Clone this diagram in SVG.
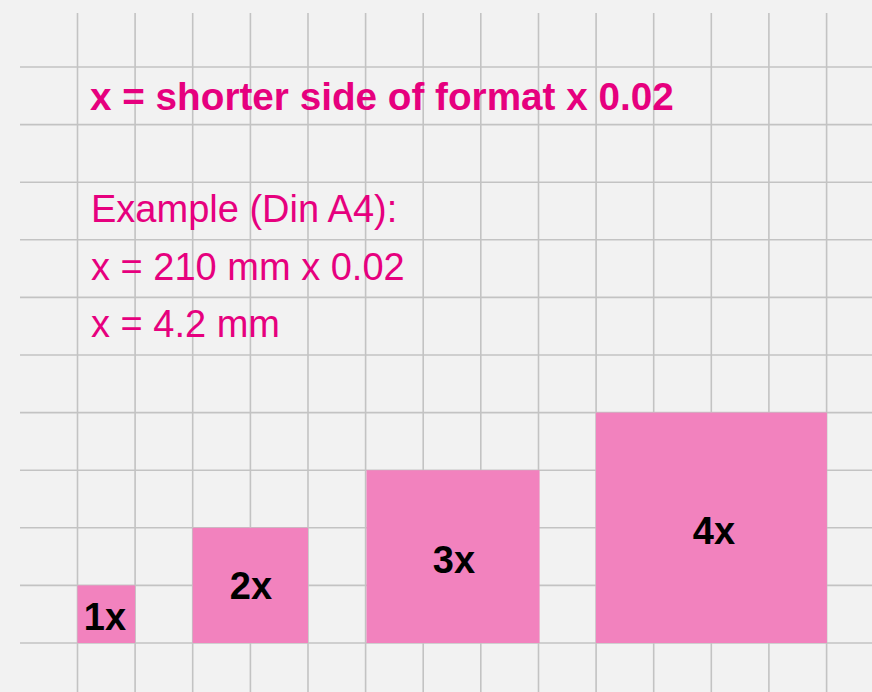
<svg xmlns="http://www.w3.org/2000/svg" width="872" height="692" viewBox="0 0 872 692">
<style>
.g{stroke:#c3c3c3;stroke-width:1.6;fill:none}
.sq{fill:#f282be}
.t{font-family:"Liberation Sans",Arial,sans-serif;fill:#e6007e;font-size:38px}
.b{font-weight:bold;font-size:38.7px}
.lbl{font-family:"Liberation Sans",Arial,sans-serif;font-weight:bold;font-size:38px;fill:#000;text-anchor:middle}
</style>
<rect width="872" height="692" fill="#f2f2f2"/>
<g id="grid" class="g">
<path d="M77.5 13V692M135.1 13V692M192.7 13V692M250.4 13V692M308 13V692M365.6 13V692M423.2 13V692M480.8 13V692M538.5 13V692M596.1 13V692M653.7 13V692M711.3 13V692M768.9 13V692M826.6 13V692"/>
<path d="M20 67H872M20 124.6H872M20 182.2H872M20 239.8H872M20 297.4H872M20 355H872M20 412.6H872M20 470.2H872M20 527.8H872M20 585.4H872M20 643H872"/>
</g>
<g id="texts">
<text class="t b" x="90" y="110">x = shorter side of format x 0.02</text>
<text class="t" x="91" y="222">Example (Din A4):</text>
<text class="t" x="91" y="280">x = 210 mm x 0.02</text>
<text class="t" x="91" y="337">x = 4.2 mm</text>
</g>
<g id="box1x"><rect class="sq" x="77.5" y="585.4" width="57.6" height="57.6"/><text class="lbl" x="105" y="630">1x</text></g>
<g id="box2x"><rect class="sq" x="192.7" y="527.8" width="115.3" height="115.2"/><text class="lbl" x="251" y="599">2x</text></g>
<g id="box3x"><rect class="sq" x="366.5" y="470.2" width="173" height="172.8"/><text class="lbl" x="454" y="573">3x</text></g>
<g id="box4x"><rect class="sq" x="595.9" y="412.6" width="231" height="230.4"/><text class="lbl" x="714" y="544">4x</text></g>
</svg>
